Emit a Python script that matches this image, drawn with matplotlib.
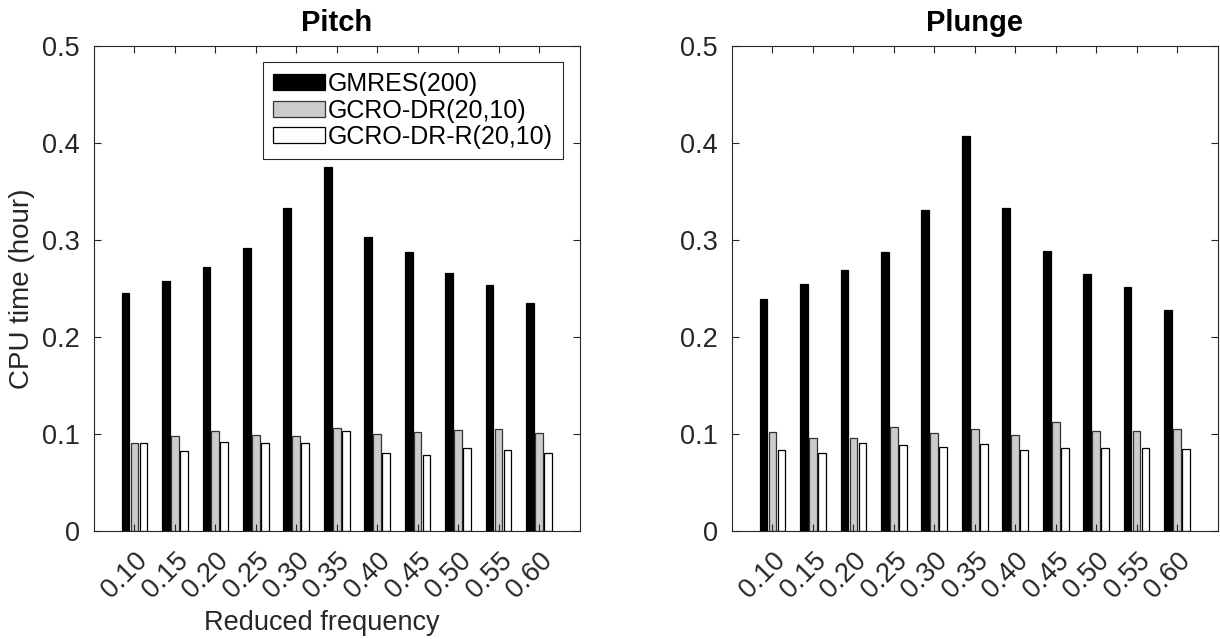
import matplotlib
matplotlib.use("Agg")
import matplotlib.pyplot as plt
import numpy as np

plt.rcParams["font.family"] = ["Liberation Sans", "DejaVu Sans"]

FREQ_LABELS = ["0.10", "0.15", "0.20", "0.25", "0.30", "0.35",
               "0.40", "0.45", "0.50", "0.55", "0.60"]

SERIES_NAMES = ["GMRES(200)", "GCRO-DR(20,10)", "GCRO-DR-R(20,10)"]

# CPU time in hours, pitching case
pitch_gmres = [0.245, 0.258, 0.272, 0.292, 0.333, 0.375,
               0.303, 0.288, 0.266, 0.254, 0.235]
pitch_gcrodr = [0.091, 0.098, 0.103, 0.099, 0.098, 0.106,
                0.100, 0.102, 0.104, 0.105, 0.101]
pitch_gcrodr_r = [0.091, 0.082, 0.092, 0.091, 0.091, 0.103,
                  0.080, 0.078, 0.086, 0.083, 0.080]

# CPU time in hours, plunging case
plunge_gmres = [0.239, 0.255, 0.269, 0.288, 0.331, 0.407,
                0.333, 0.289, 0.265, 0.252, 0.228]
plunge_gcrodr = [0.102, 0.096, 0.096, 0.107, 0.101, 0.105,
                 0.099, 0.112, 0.103, 0.103, 0.105]
plunge_gcrodr_r = [0.083, 0.080, 0.091, 0.089, 0.087, 0.090,
                   0.084, 0.086, 0.086, 0.086, 0.085]

FACE_COLORS = ["#000000", "#cccccc", "#ffffff"]
EDGE_COLORS = ["#000000", "#333333", "#000000"]
AXIS_COLOR = "#262626"


def draw_panel(ax, series, title):
    x = np.arange(1, len(FREQ_LABELS) + 1)
    step = 0.222
    width = 0.19
    for i, values in enumerate(series):
        ax.bar(x + (i - 1) * step, values, width=width,
               color=FACE_COLORS[i], edgecolor=EDGE_COLORS[i],
               linewidth=0.9, label=SERIES_NAMES[i])

    ax.set_xlim(0, len(FREQ_LABELS) + 1)
    ax.set_ylim(0, 0.5)
    ax.set_yticks(np.arange(0, 0.51, 0.1))
    ax.set_yticklabels(["0", "0.1", "0.2", "0.3", "0.4", "0.5"])
    ax.set_xticks(x)
    ax.set_xticklabels(FREQ_LABELS, rotation=45, ha="right",
                       rotation_mode="anchor")

    ax.tick_params(direction="in", top=True, right=True, length=5,
                   width=0.8, colors=AXIS_COLOR, labelsize=19.5, pad=10)
    ax.tick_params(axis="x", pad=12)
    for spine in ax.spines.values():
        spine.set_color(AXIS_COLOR)
        spine.set_linewidth(0.8)

    ax.set_title(title, fontsize=21, fontweight="bold", pad=11)


fig = plt.figure(figsize=(12.2, 6.39), dpi=100)
ax_pitch = fig.add_axes([0.0770, 0.169, 0.398, 0.759])
ax_plunge = fig.add_axes([0.600, 0.169, 0.398, 0.759])

draw_panel(ax_pitch, [pitch_gmres, pitch_gcrodr, pitch_gcrodr_r], "Pitch")
draw_panel(ax_plunge, [plunge_gmres, plunge_gcrodr, plunge_gcrodr_r], "Plunge")

ax_pitch.set_ylabel("CPU time (hour)", fontsize=20, color=AXIS_COLOR)
ax_pitch.set_xlabel("Reduced frequency", fontsize=19.5, color=AXIS_COLOR)
ax_pitch.yaxis.set_label_coords(-0.122, 0.5)
ax_pitch.xaxis.set_label_coords(0.47, -0.163)

leg = ax_pitch.legend(loc="upper right", bbox_to_anchor=(0.965, 0.967),
                      borderaxespad=0, fontsize=18, fancybox=False,
                      framealpha=1, edgecolor=AXIS_COLOR,
                      handlelength=2.1, handleheight=0.6,
                      handletextpad=0.1, labelspacing=0.1, borderpad=0.4)
leg.get_frame().set_linewidth(0.8)

fig.savefig("out.png", dpi=100)
plt.close(fig)
